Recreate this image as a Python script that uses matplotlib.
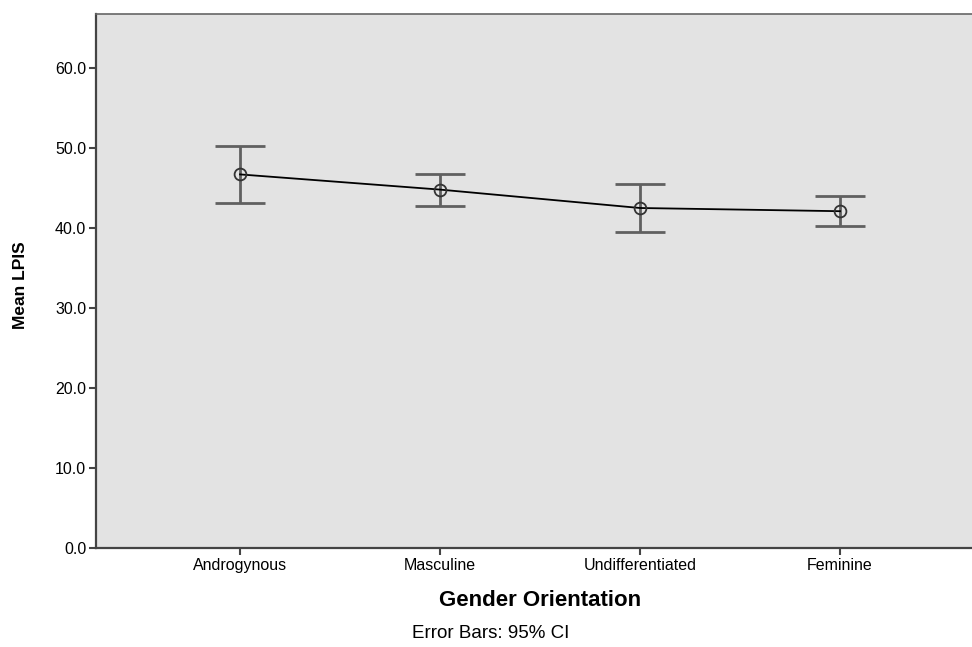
import numpy as np
import matplotlib
matplotlib.use("Agg")
import matplotlib.pyplot as plt

plt.rcParams['font.family'] = ['Liberation Sans', 'DejaVu Sans']

# Data
categories = ["Androgynous", "Masculine", "Undifferentiated", "Feminine"]
means = [46.7, 44.8, 42.5, 42.1]
ci_low = [43.1, 42.8, 39.5, 40.2]
ci_high = [50.3, 46.8, 45.5, 44.0]
y_ticks = [0, 10, 20, 30, 40, 50, 60]

bg = "#e3e3e3"
bar_color = "#606060"

fig = plt.figure(figsize=(9.72, 6.47), dpi=100)
ax = fig.add_axes([96 / 972, 99 / 647, 888 / 972, 534 / 647])
ax.set_facecolor(bg)

x = np.arange(len(categories))
means_arr = np.array(means)
yerr = [means_arr - np.array(ci_low), np.array(ci_high) - means_arr]

# Error bars
ax.errorbar(x, means, yerr=yerr, fmt="none", ecolor=bar_color, elinewidth=2,
            capsize=18, capthick=2, zorder=2)
# Mean line and markers
ax.plot(x, means, color="black", linewidth=1.3, zorder=3)
ax.plot(x, means, linestyle="none", marker="o", markersize=8.5,
        markerfacecolor="none", markeredgecolor="#333333", markeredgewidth=1.3, zorder=4)

ax.set_xlim(-0.72, 3.72)
ax.set_ylim(0, 66.75)
ax.set_xticks(x)
ax.set_xticklabels(categories, fontsize=11.5)
ax.set_yticks(y_ticks)
ax.set_yticklabels([f"{v:.1f}" for v in y_ticks], fontsize=11.5)

ax.tick_params(axis="both", direction="out", length=5, width=1.5, color="#444444", pad=2)

for side in ["left", "bottom"]:
    ax.spines[side].set_color("#444444")
    ax.spines[side].set_linewidth(1.6)
ax.spines["top"].set_color("#666666")
ax.spines["top"].set_linewidth(1.2)
ax.spines["right"].set_visible(False)

# Axis titles and footnote
fig.text(21 / 972, 1 - 285 / 647, "Mean LPIS", fontsize=12.5, fontweight="bold",
         rotation=90, ha="center", va="center")
fig.text(540 / 972, 1 - 600 / 647, "Gender Orientation", fontsize=16, fontweight="bold",
         ha="center", va="center")
fig.text(491 / 972, 1 - 633 / 647, "Error Bars: 95% CI", fontsize=13.5, ha="center", va="center")

fig.savefig("out.png", dpi=100, facecolor="white")
